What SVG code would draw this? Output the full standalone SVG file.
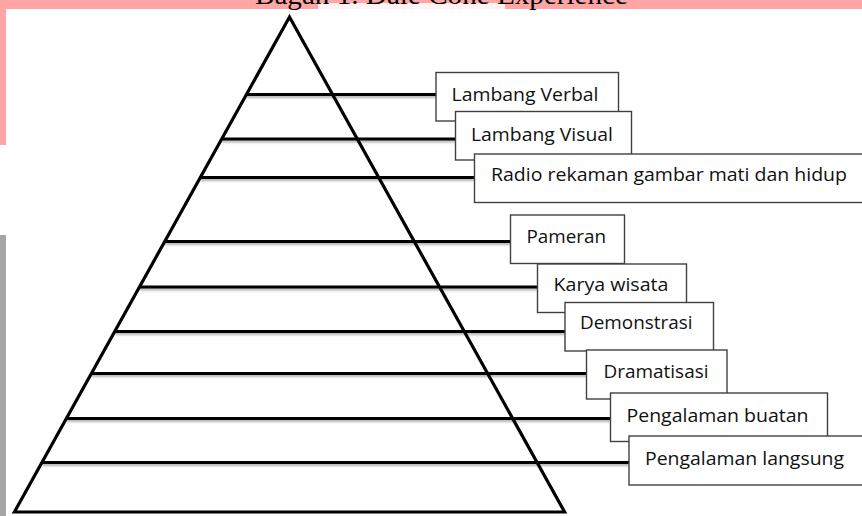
<svg xmlns="http://www.w3.org/2000/svg" width="862" height="516" viewBox="0 0 862 516">
<style>
.box rect{fill:#fff;stroke:#404040;stroke-width:1.4}
.box text{font-family:"Open Sans","Noto Sans",sans-serif;font-size:19px;fill:#111}
.conn line{stroke:#000;stroke-width:3.2;stroke-linecap:butt}
.tri{fill:#fff;stroke:#000;stroke-width:3.2;stroke-linejoin:miter}
</style>
<defs>
<filter id="sh" filterUnits="userSpaceOnUse" x="0" y="0" width="862" height="516">
<feDropShadow dx="0" dy="2" stdDeviation="1.2" flood-color="#000" flood-opacity="0.3"/>
</filter>
</defs>
<rect x="0" y="0" width="862" height="516" fill="#fff"/>
<rect x="0" y="0" width="862" height="9" fill="#ffa5a5"/>
<rect x="318" y="3" width="187" height="6" fill="#fff" opacity="0.85"/>
<rect x="0" y="0" width="6" height="145" fill="#ffa5a5"/>
<rect x="0" y="235" width="6" height="281" fill="#a6a6a6"/>
<text x="255" y="4" font-family="'Liberation Serif',serif" font-size="28" textLength="373" lengthAdjust="spacingAndGlyphs" fill="#000">Bagan 1. Dale Cone Experience</text>

<g id="pyramid">
<polygon class="tri" points="289.5,17 14.4,512 564.6,512"/>
</g>

<g id="connectors" class="conn" filter="url(#sh)">
<line x1="246.4" y1="94.5" x2="436" y2="94.5"/>
<line x1="221.7" y1="139" x2="455.5" y2="139"/>
<line x1="200.3" y1="177.5" x2="474.5" y2="177.5"/>
<line x1="164.7" y1="241.5" x2="510.5" y2="241.5"/>
<line x1="139.4" y1="287" x2="537.5" y2="287"/>
<line x1="114.7" y1="331.5" x2="565" y2="331.5"/>
<line x1="91.4" y1="373.5" x2="586.5" y2="373.5"/>
<line x1="66.4" y1="418.5" x2="610.5" y2="418.5"/>
<line x1="41.9" y1="462.5" x2="629" y2="462.5"/>
</g>

<g id="n1" class="box"><rect x="436" y="72.5" width="182.5" height="48.5"/><text x="451.5" y="100.5" textLength="147" lengthAdjust="spacingAndGlyphs">Lambang Verbal</text></g>
<g id="n2" class="box"><rect x="455.5" y="111.5" width="176" height="48.5"/><text x="471" y="140.5" textLength="142" lengthAdjust="spacingAndGlyphs">Lambang Visual</text></g>
<g id="n3" class="box"><rect x="474.5" y="154" width="400" height="48.5"/><text x="491" y="180.5" textLength="356" lengthAdjust="spacingAndGlyphs">Radio rekaman gambar mati dan hidup</text></g>
<g id="n4" class="box"><rect x="510.5" y="215" width="114" height="48.5"/><text x="526.5" y="242.5" textLength="79.5" lengthAdjust="spacingAndGlyphs">Pameran</text></g>
<g id="n5" class="box"><rect x="537.5" y="264" width="149" height="48.5"/><text x="553.5" y="291" textLength="115" lengthAdjust="spacingAndGlyphs">Karya wisata</text></g>
<g id="n6" class="box"><rect x="565" y="302.5" width="148.5" height="48.5"/><text x="580" y="329" textLength="112.5" lengthAdjust="spacingAndGlyphs">Demonstrasi</text></g>
<g id="n7" class="box"><rect x="586.5" y="350" width="140.5" height="49"/><text x="603.5" y="378" textLength="105" lengthAdjust="spacingAndGlyphs">Dramatisasi</text></g>
<g id="n8" class="box"><rect x="610.5" y="393" width="217" height="48.5"/><text x="626.5" y="421.5" textLength="182" lengthAdjust="spacingAndGlyphs">Pengalaman buatan</text></g>
<g id="n9" class="box"><rect x="629" y="436" width="250" height="49"/><text x="645" y="464.5" textLength="199" lengthAdjust="spacingAndGlyphs">Pengalaman langsung</text></g>
</svg>
